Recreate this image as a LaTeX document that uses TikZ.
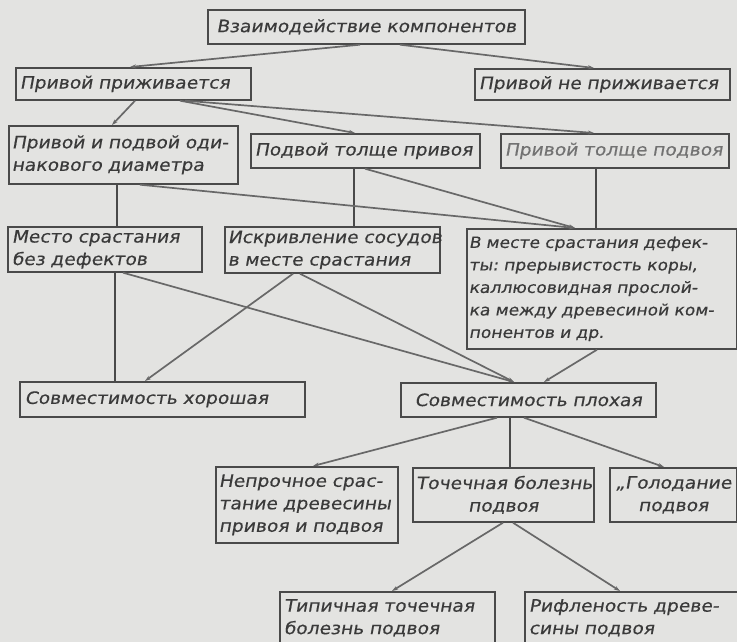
\documentclass[tikz,border=0pt]{standalone}
\usepackage{fontspec}
\usetikzlibrary{arrows.meta,calc}
\newfontfamily\gost{DejaVu Sans}[FakeSlant=0.18,FakeStretch=1.1,FakeBold=0.4]
\definecolor{bg}{HTML}{E3E3E1}
\definecolor{boxc}{HTML}{4A4A4A}
\definecolor{linec}{HTML}{686868}
\definecolor{txt}{HTML}{3A3A3A}
\definecolor{txtl}{HTML}{727272}
\begin{document}
\begin{tikzpicture}[x=1pt,y=-1pt,
  box/.style={draw=boxc, line width=1.7pt, text=txt, font=\gost\fontsize{17}{22.5}\selectfont,
    inner xsep=4pt, inner ysep=0pt, anchor=north west},
  conn/.style={draw=linec, line width=1.7pt, -{Stealth[length=6pt,width=4pt]}},
  vline/.style={draw=boxc, line width=1.2pt}]
\fill[bg] (0,0) rectangle (737,642);
\useasboundingbox (0,0) rectangle (737,642);
\clip (0,0) rectangle (737,642);
% boxes
\node[box, minimum width=317pt, minimum height=34pt, text width=309pt, align=center] (A) at (207,9) {Взаимодействие~компонентов};
\node[box, minimum width=235pt, minimum height=32pt, text width=227pt, align=left] (B) at (15,67) {Привой~приживается};
\node[box, minimum width=255pt, minimum height=31pt, text width=247pt, align=left] (C) at (474,68) {Привой~не~приживается};
\node[box, minimum width=229pt, minimum height=58pt, text width=223pt, inner xsep=3pt, align=left] (D) at (8,125) {Привой~и~подвой~оди-\\накового~диаметра};
\node[box, minimum width=229pt, minimum height=34pt, text width=221pt, align=left] (E) at (250,133) {Подвой~толще~привоя};
\node[box, minimum width=228pt, minimum height=34pt, text width=220pt, align=left, text=txtl] (F) at (500,133) {Привой~толще~подвоя};
\node[box, minimum width=194pt, minimum height=45pt, text width=186pt, align=left] (G) at (7,226) {Место~срастания\\без~дефектов};
\node[box, minimum width=215pt, minimum height=46pt, text width=209pt, inner xsep=3pt, align=left] (H) at (224,226) {Искривление~сосудов\\в~месте~срастания};
\node[box, minimum width=270pt, minimum height=120pt, text width=266pt, inner xsep=2pt, align=left,
  font=\gost\fontsize{15.6}{22.5}\selectfont] (I) at (466,228) {В~месте~срастания~дефек-\\ты:~прерывистость~коры,\\каллюсовидная~прослой-\\ка~между~древесиной~ком-\\понентов~и~др.};
\node[box, minimum width=285pt, minimum height=35pt, text width=275pt, inner xsep=5pt, align=left] (J) at (19,381) {Совместимость~хорошая};
\node[box, minimum width=255pt, minimum height=34pt, text width=247pt, align=center] (K) at (400,382) {Совместимость~плохая};
\node[box, minimum width=182pt, minimum height=76pt, text width=176pt, inner xsep=3pt, align=left] (L) at (215,466) {Непрочное~срас-\\тание~древесины\\привоя~и~подвоя};
\node[box, minimum width=181pt, minimum height=54pt, text width=175pt, inner xsep=3pt, align=center] (M) at (412,467) {Точечная~болезнь\\подвоя};
\node[box, minimum width=127pt, minimum height=54pt, text width=121pt, inner xsep=3pt, align=center] (N) at (609,467) {„Голодание\\подвоя};
\node[box, minimum width=215pt, minimum height=52pt, text width=207pt, align=left] (O) at (279,591) {Типичная~точечная\\болезнь~подвоя};
\node[box, minimum width=230pt, minimum height=52pt, text width=222pt, align=left] (P) at (524,591) {Рифленость~древе-\\сины~подвоя};
% connectors
\draw[conn] ($(A.south west)+(153,0)$) -- ($(B.north west)+(115,0)$);
\draw[conn] ($(A.south west)+(193,0)$) -- ($(C.north west)+(120,0)$);
\draw[conn] ($(B.south west)+(120,0)$) -- ($(D.north west)+(104,0)$);
\draw[conn] ($(B.south west)+(165,0)$) -- ($(E.north west)+(105,0)$);
\draw[conn] ($(B.south west)+(170,0)$) -- ($(F.north west)+(94,0)$);
\draw[vline] ($(D.south west)+(109,0)$) -- ($(G.north west)+(110,0)$);
\draw[vline] ($(E.south west)+(104,0)$) -- ($(H.north west)+(130,0)$);
\draw[vline] ($(F.south west)+(96,0)$) -- ($(I.north west)+(130,0)$);
\draw[conn] ($(D.south west)+(132,0)$) -- ($(I.north west)+(109,0)$);
\draw[conn] ($(E.south west)+(115,0)$) -- ($(I.north west)+(109,0)$);
\draw[vline] ($(G.south west)+(108,0)$) -- ($(J.north west)+(96,0)$);
\draw[conn] ($(G.south west)+(116,0)$) -- ($(K.north west)+(114,0)$);
\draw[conn] ($(H.south west)+(69,0)$) -- ($(J.north west)+(126,0)$);
\draw[conn] ($(H.south west)+(76,0)$) -- ($(K.north west)+(114,0)$);
\draw[conn] ($(I.south west)+(131,0)$) -- ($(K.north west)+(144,0)$);
\draw[conn] ($(K.south west)+(97,0)$) -- ($(L.north west)+(98,0)$);
\draw[vline] ($(K.south west)+(110,0)$) -- ($(M.north west)+(98,0)$);
\draw[conn] ($(K.south west)+(124,0)$) -- ($(N.north west)+(55,0)$);
\draw[conn] ($(M.south west)+(91,0)$) -- ($(O.north west)+(113,0)$);
\draw[conn] ($(M.south west)+(101,0)$) -- ($(P.north west)+(96,0)$);
\end{tikzpicture}
\end{document}
